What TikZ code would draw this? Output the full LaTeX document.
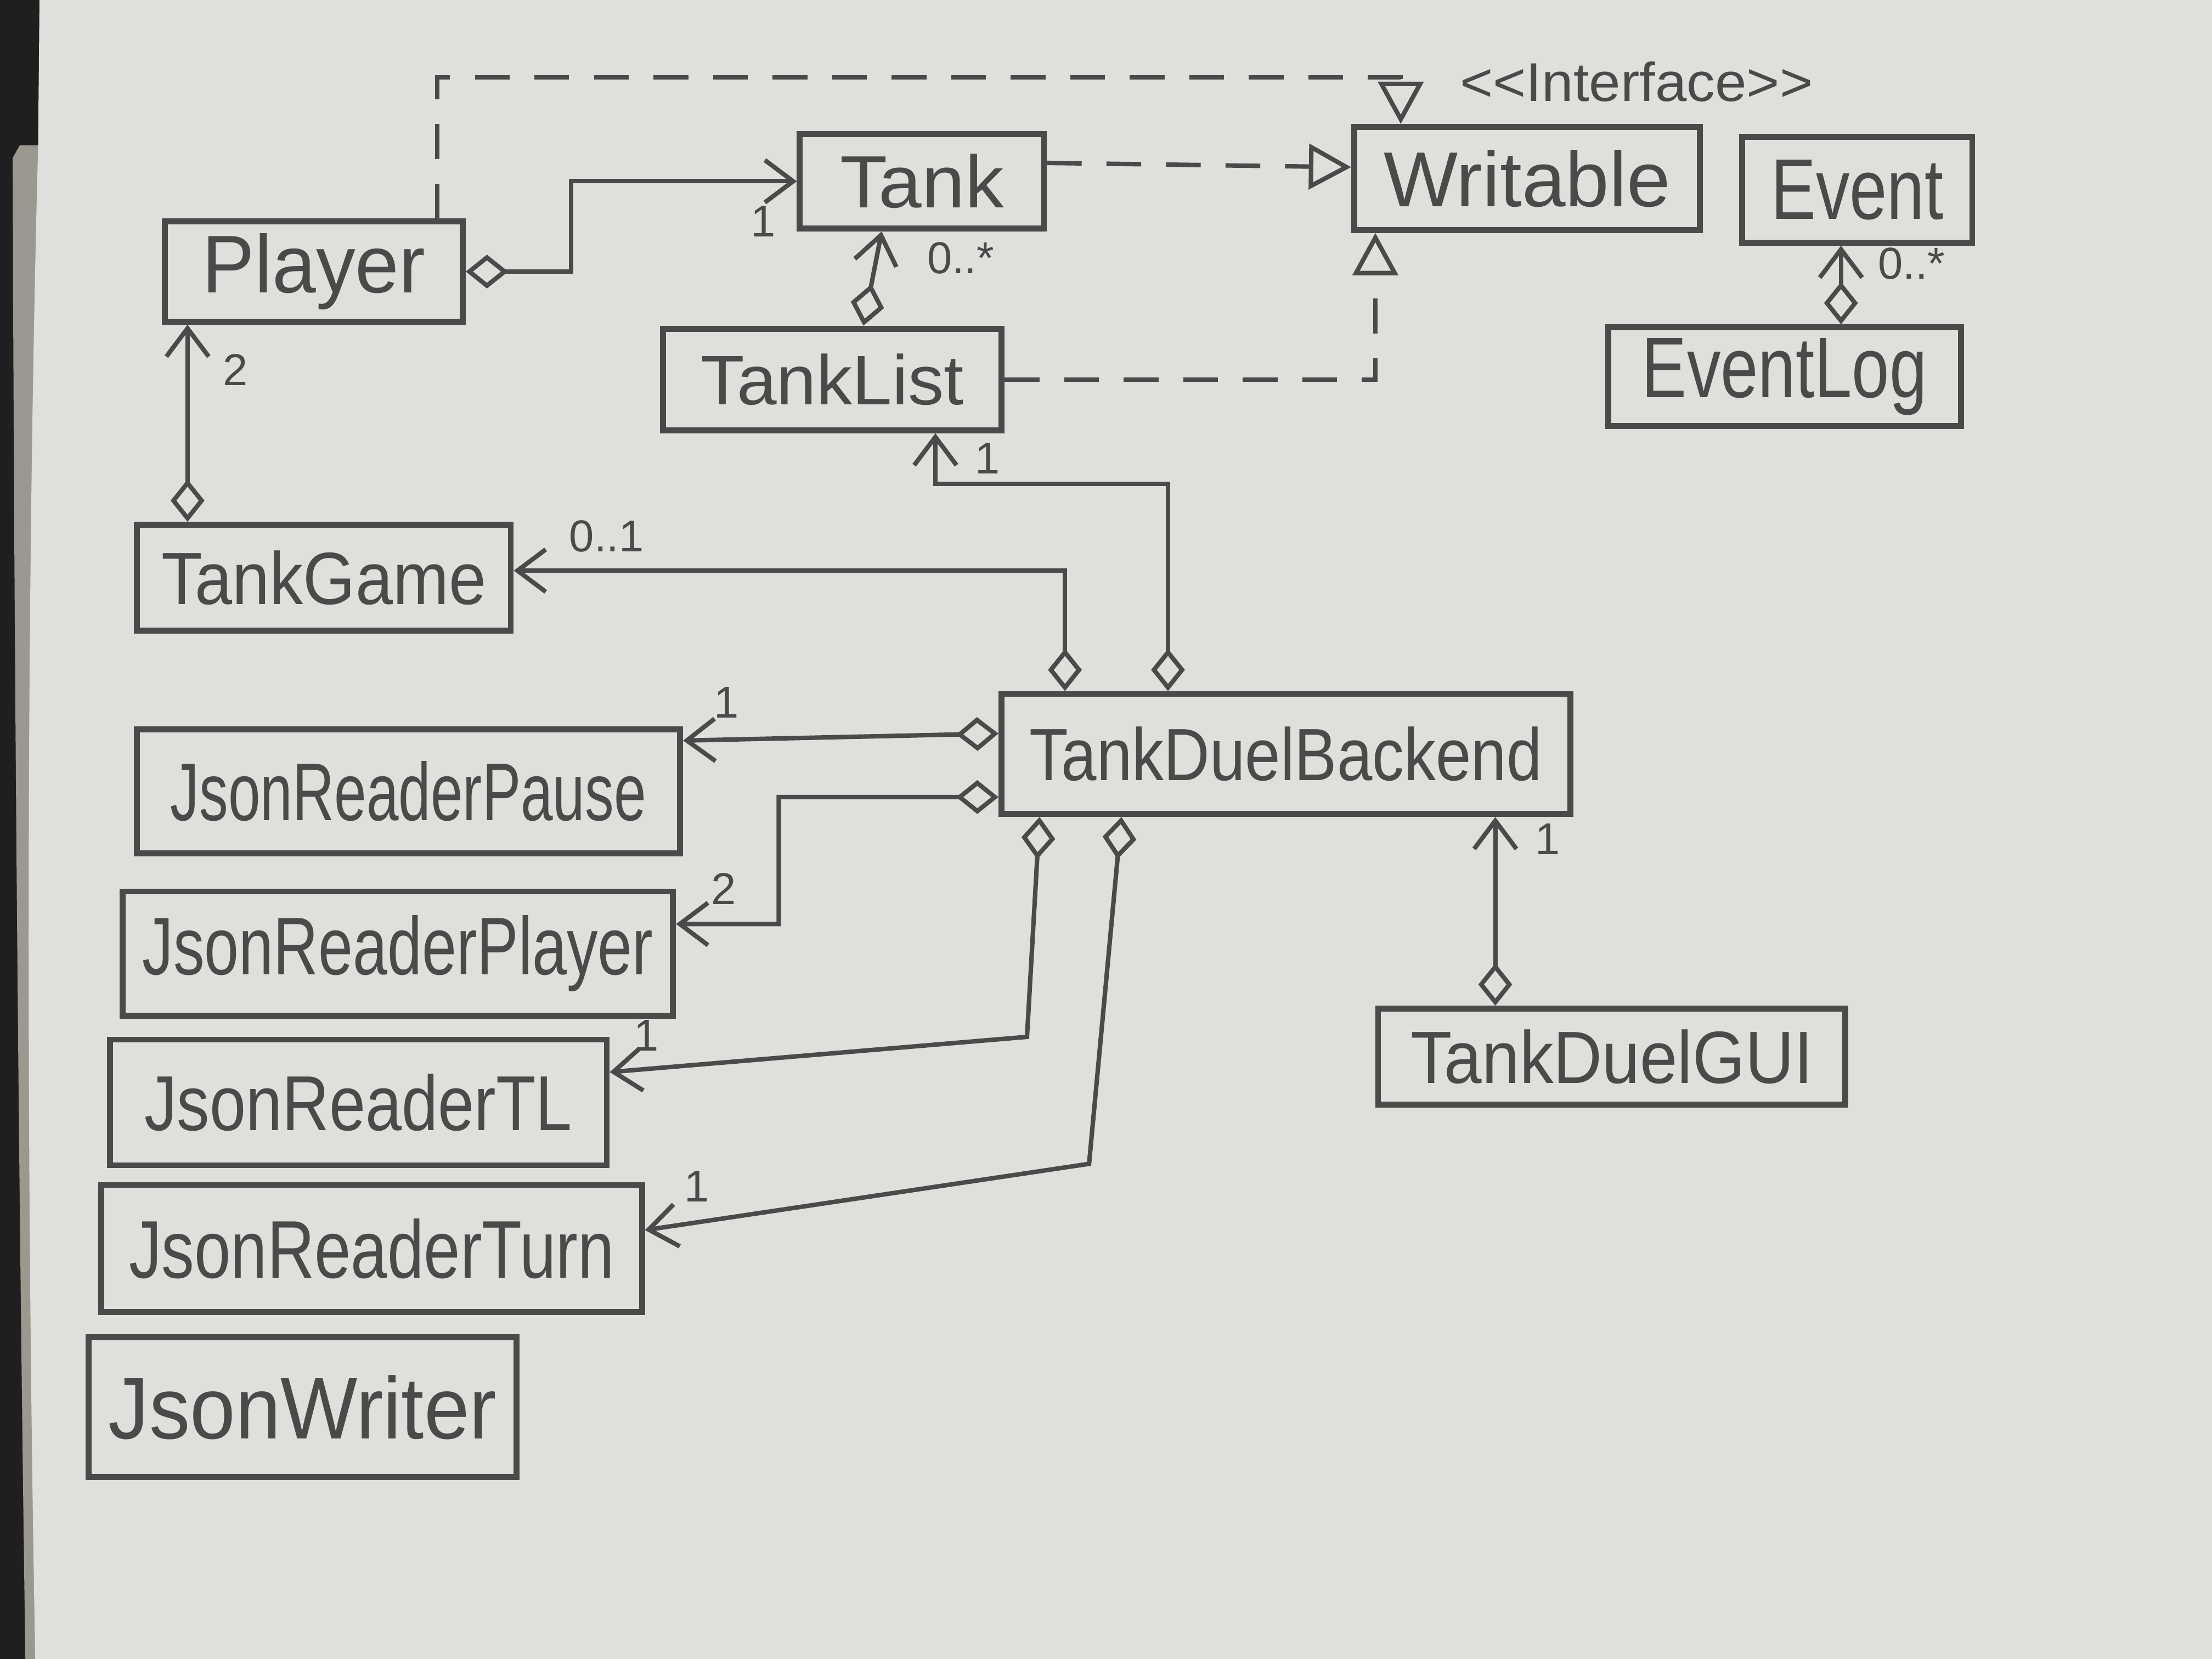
\documentclass[tikz,border=0pt]{standalone}
\usepackage{fontspec}
\setmainfont{Liberation Sans}
\usetikzlibrary{arrows.meta}
\definecolor{paper}{HTML}{DFDFDC}
\definecolor{slab}{HTML}{9B988F}
\definecolor{ink}{HTML}{4A4A4A}
\newcommand{\rb}[3]{\resizebox{#1}{#2}{#3}}
\begin{document}
\begin{tikzpicture}[x=0.01cm,y=-0.01cm,
  cls/.style={draw=ink, line width=1.2pt, inner sep=0pt, text=ink},
  mult/.style={text=ink, font=\fontsize{9}{10}\selectfont, inner sep=1pt},
  agg/.style={draw=ink, line width=0.9pt, {Diamond[open,length=3mm,width=2.4mm]}-{Straight Barb[length=2mm,width=3mm]}},
  real/.style={draw=ink, line width=0.9pt, dash pattern=on 7pt off 5pt, -{Triangle[open,length=3mm,width=3.2mm]}}]
\useasboundingbox (0,0) rectangle (1568,1176);
\fill[black!88] (0,0) rectangle (40,1176);
\fill[slab] (9,112) .. controls (10,500) and (14,900) .. (18,1176) -- (30,1176) -- (30,103) -- (14,103) -- cycle;
\fill[paper] (28,0) -- (27,105) .. controls (19,400) and (18,800) .. (25,1176) -- (1568,1176) -- (1568,0) -- cycle;

% classes
\node[cls, minimum width=2.11cm, minimum height=0.71cm] (player) at (222.5,192.5) {\rb{1.58cm}{0.42cm}{Player}};
\node[cls, minimum width=1.73cm, minimum height=0.67cm] (tank) at (653.5,128.5) {\rb{1.16cm}{0.38cm}{Tank}};
\node[cls, minimum width=2.45cm, minimum height=0.73cm] (writable) at (1082.5,126.5) {\rb{2.03cm}{0.40cm}{Writable}};
\node[text=ink] (iface) at (1160,58) {\rb{2.5cm}{0.28cm}{<{}<Interface>{}>}};
\node[cls, minimum width=1.63cm, minimum height=0.75cm] (event) at (1316.5,134.5) {\rb{1.22cm}{0.42cm}{Event}};
\node[cls, minimum width=2.50cm, minimum height=0.70cm] (eventlog) at (1265,267) {\rb{2.02cm}{0.42cm}{EventLog}};
\node[cls, minimum width=2.40cm, minimum height=0.72cm] (tanklist) at (590,269) {\rb{1.86cm}{0.36cm}{TankList}};
\node[cls, minimum width=2.65cm, minimum height=0.75cm] (tankgame) at (229.5,409.5) {\rb{2.30cm}{0.38cm}{TankGame}};
\node[cls, minimum width=4.03cm, minimum height=0.85cm] (tdb) at (911.5,534.5) {\rb{3.63cm}{0.38cm}{TankDuelBackend}};
\node[cls, minimum width=3.85cm, minimum height=0.88cm] (jrpause) at (289.5,561) {\rb{3.37cm}{0.42cm}{JsonReaderPause}};
\node[cls, minimum width=3.90cm, minimum height=0.88cm] (jrplayer) at (282,676) {\rb{3.62cm}{0.42cm}{JsonReaderPlayer}};
\node[cls, minimum width=3.52cm, minimum height=0.89cm] (jrtl) at (254,781.5) {\rb{3.03cm}{0.40cm}{JsonReaderTL}};
\node[cls, minimum width=3.83cm, minimum height=0.90cm] (jrturn) at (263.5,885) {\rb{3.44cm}{0.42cm}{JsonReaderTurn}};
\node[cls, minimum width=3.03cm, minimum height=0.99cm] (jwriter) at (214.5,997.5) {\rb{2.75cm}{0.45cm}{JsonWriter}};
\node[cls, minimum width=3.31cm, minimum height=0.68cm] (gui) at (1142.5,749) {\rb{2.85cm}{0.38cm}{TankDuelGUI}};

% realizations (dashed)
\draw[real] ([xshift=8.75mm]player.north) -- ++(0,-100) -| ([xshift=-8.95mm]writable.north);
\draw[real] ([yshift=1.3mm]tank.east) -- ([yshift=0.8mm]writable.west);
\draw[real] (tanklist.east) -| ([xshift=-10.75mm]writable.south);

% aggregations
\draw[agg] (player.east) -- (405,192.5) |- (tank.west);
\draw[agg] ([xshift=2.2mm]tanklist.north) -- ([xshift=-2.85mm]tank.south);
\draw[agg] ([xshift=4mm]eventlog.north) -- ([xshift=4mm]eventlog.north |- event.south);
\draw[agg] ([xshift=-9.65mm]tankgame.north) -- ([xshift=-9.65mm]tankgame.north |- player.south);
\draw[agg] ([xshift=-15.65mm]tdb.north) |- ([yshift=0.5mm]tankgame.east);
\draw[agg] ([xshift=-8.35mm]tdb.north) -- ++(0,-147) -| ([xshift=7.3mm]tanklist.south);
\draw[agg] ([yshift=1.45mm]tdb.west) -- ([yshift=3.6mm]jrpause.east);
\draw[agg] ([yshift=-3.05mm]tdb.west) -- (552,565) |- ([yshift=2.1mm]jrplayer.east);
\draw[agg] ([xshift=-17.45mm]tdb.south) -- (728,735) -- ([yshift=2.15mm]jrtl.east);
\draw[agg] ([xshift=-11.65mm]tdb.south) -- (772,825) -- ([yshift=1.3mm]jrturn.east);
\draw[agg] ([xshift=-8.25mm]gui.north) -- ([xshift=-8.25mm]gui.north |- tdb.south);

% multiplicities
\node[mult] (m1) at (541,157) {1};
\node[mult] (m2) at (681,183) {0..*};
\node[mult] (m3) at (1355,187) {0..*};
\node[mult] (m4) at (167,262) {2};
\node[mult] (m5) at (430,380) {0..1};
\node[mult] (m6) at (700,325) {1};
\node[mult] (m7) at (515,498) {1};
\node[mult] (m8) at (513,630) {2};
\node[mult] (m9) at (458,734) {1};
\node[mult] (m10) at (494,841) {1};
\node[mult] (m11) at (1097,595) {1};
\end{tikzpicture}
\end{document}
